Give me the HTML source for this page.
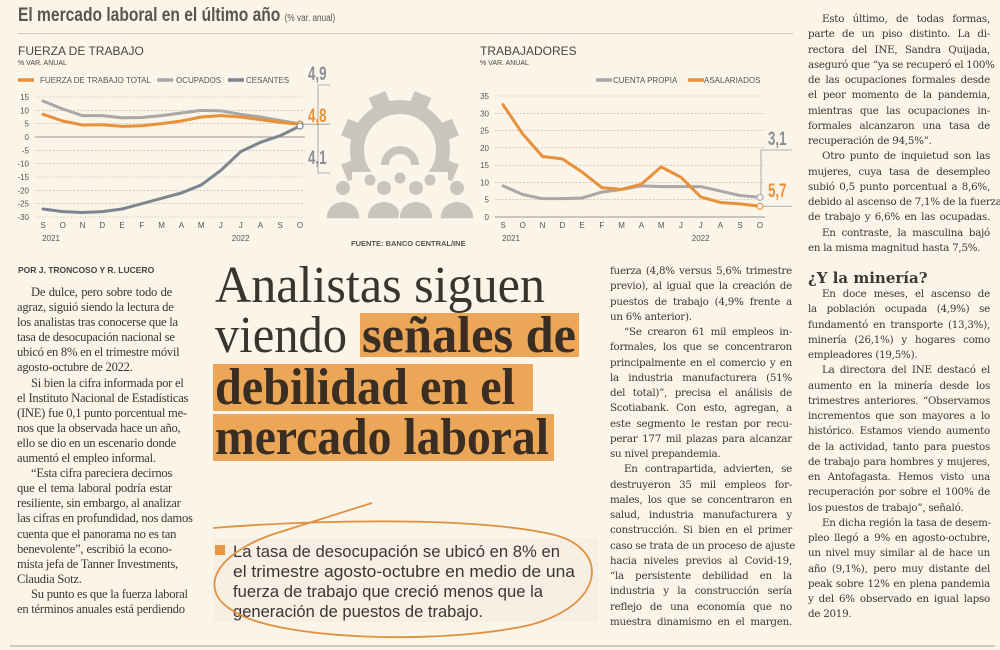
<!DOCTYPE html>
<html><head><meta charset="utf-8">
<style>
html,body{margin:0;padding:0;}
body{width:1000px;height:650px;background:#fbf4e9;position:relative;overflow:hidden;font-family:"Liberation Serif",serif;color:#3b3531;}
.abs{position:absolute;}
.col{position:absolute;font-family:"DejaVu Serif","Liberation Serif",serif;font-size:10.3px;letter-spacing:-0.25px;color:#3d3834;}
.col div{height:15.25px;line-height:15.25px;white-space:nowrap;text-align:justify;text-align-last:justify;}
.col div.l{text-align-last:left;}
.col div.i{padding-left:14px;}
.c1{font-family:"Liberation Serif",serif;font-size:12.6px;letter-spacing:-0.25px;}
.c1 div{height:15.1px;line-height:15.1px;}
.sans{font-family:"Liberation Sans",sans-serif;}
</style></head><body>

<div class="abs" style="left:18px;top:5px;font-family:'Liberation Sans',sans-serif;font-weight:bold;font-size:19px;color:#5a5551;transform:scaleX(0.82);transform-origin:left;white-space:nowrap;">El mercado laboral en el último año <span style="font-size:10px;font-weight:normal">(% var. anual)</span></div>
<div class="abs" style="left:18px;top:33px;width:775px;height:1px;background:#cfc8bf;"></div>

<svg class="abs" style="left:0;top:0" width="800" height="260" font-family="Liberation Sans, sans-serif">
  <g id="c1"></g>
  <g id="c2"></g>
  <g id="gear" fill="#c9c4bd">
  </g>
  <text x="351" y="246" font-size="7.5" font-weight="bold" fill="#555">FUENTE: BANCO CENTRAL/INE</text>
</svg>

<div class="abs sans" style="left:18px;top:265px;font-size:8.5px;font-weight:bold;color:#444;">POR J. TRONCOSO Y R. LUCERO</div>

<div class="col c1" style="left:17px;top:285px;width:155px;">
<div class="i">De dulce, pero sobre todo de</div>
<div>agraz, siguió siendo la lectura de</div>
<div>los analistas tras conocerse que la</div>
<div>tasa de desocupación nacional se</div>
<div>ubicó en 8% en el trimestre móvil</div>
<div class="l">agosto-octubre de 2022.</div>
<div class="i">Si bien la cifra informada por el</div>
<div>el Instituto Nacional de Estadísticas</div>
<div>(INE) fue 0,1 punto porcentual me-</div>
<div>nos que la observada hace un año,</div>
<div>ello se dio en un escenario donde</div>
<div class="l">aumentó el empleo informal.</div>
<div class="i">“Esta cifra pareciera decirnos</div>
<div>que el tema laboral podría estar</div>
<div>resiliente, sin embargo, al analizar</div>
<div>las cifras en profundidad, nos damos</div>
<div>cuenta que el panorama no es tan</div>
<div>benevolente”, escribió la econo-</div>
<div>mista jefa de Tanner Investments,</div>
<div class="l">Claudia Sotz.</div>
<div class="i">Su punto es que la fuerza laboral</div>
<div>en términos anuales está perdiendo</div>
</div>

<svg class="abs" style="left:0;top:0" width="600" height="650">
  <rect x="360" y="313" width="219" height="44" fill="#eba657"/>
  <rect x="213" y="364" width="320" height="47" fill="#eba657"/>
  <rect x="213" y="414" width="341" height="47" fill="#eba657"/>
  <text x="215" y="302" font-family="Liberation Serif, serif" font-size="52" fill="#3a342f" textLength="330" lengthAdjust="spacingAndGlyphs">Analistas siguen</text>
  <text x="215" y="352" font-family="Liberation Serif, serif" font-size="52" fill="#3a342f" textLength="132" lengthAdjust="spacingAndGlyphs">viendo</text>
  <text x="362" y="352" font-family="Liberation Serif, serif" font-weight="bold" font-size="52" fill="#3a2d22" textLength="214" lengthAdjust="spacingAndGlyphs">señales de</text>
  <text x="215" y="404" font-family="Liberation Serif, serif" font-weight="bold" font-size="52" fill="#3a2d22" textLength="300" lengthAdjust="spacingAndGlyphs">debilidad en el</text>
  <text x="215" y="454" font-family="Liberation Serif, serif" font-weight="bold" font-size="52" fill="#3a2d22" textLength="334" lengthAdjust="spacingAndGlyphs">mercado laboral</text>

  <rect x="213" y="538" width="385" height="84" fill="#f7efe3"/>
  <rect x="215" y="545" width="10" height="10" fill="#e8963f"/>
  <g font-family="Liberation Sans, sans-serif" font-size="17" fill="#3a3632">
    <text x="233" y="557" textLength="327" lengthAdjust="spacingAndGlyphs">La tasa de desocupación se ubicó en 8% en</text>
    <text x="233" y="577" textLength="342" lengthAdjust="spacingAndGlyphs">el trimestre agosto-octubre en medio de una</text>
    <text x="233" y="597" textLength="310" lengthAdjust="spacingAndGlyphs">fuerza de trabajo que creció menos que la</text>
    <text x="233" y="617" textLength="250" lengthAdjust="spacingAndGlyphs">generación de puestos de trabajo.</text>
  </g>
  <path d="M213,528 C300,521 470,515 555,535 C610,550 605,605 530,625 C440,645 280,640 235,612 C195,590 215,552 280,532 L372,503" fill="none" stroke="#e0913f" stroke-width="1.8"/>
</svg>

<div class="col" style="left:610px;top:264px;width:182px;">
<div>fuerza (4,8% versus 5,6% trimestre</div>
<div>previo), al igual que la creación de</div>
<div>puestos de trabajo (4,9% frente a</div>
<div class="l">un 6% anterior).</div>
<div class="i">“Se crearon 61 mil empleos in-</div>
<div>formales, los que se concentraron</div>
<div>principalmente en el comercio y en</div>
<div>la industria manufacturera (51%</div>
<div>del total)”, precisa el análisis de</div>
<div>Scotiabank. Con esto, agregan, a</div>
<div>este segmento le restan por recu-</div>
<div>perar 177 mil plazas para alcanzar</div>
<div class="l">su nivel prepandemia.</div>
<div class="i">En contrapartida, advierten, se</div>
<div>destruyeron 35 mil empleos for-</div>
<div>males, los que se concentraron en</div>
<div>salud, industria manufacturera y</div>
<div>construcción. Si bien en el primer</div>
<div>caso se trata de un proceso de ajuste</div>
<div>hacia niveles previos al Covid-19,</div>
<div>“la persistente debilidad en la</div>
<div>industria y la construcción sería</div>
<div>reflejo de una economía que no</div>
<div>muestra dinamismo en el margen.</div>
</div>

<div class="col" style="left:808px;top:12px;width:182px;">
<div class="i">Esto último, de todas formas,</div>
<div>parte de un piso distinto. La di-</div>
<div>rectora del INE, Sandra Quijada,</div>
<div>aseguró que “ya se recuperó el 100%</div>
<div>de las ocupaciones formales desde</div>
<div>el peor momento de la pandemia,</div>
<div>mientras que las ocupaciones in-</div>
<div>formales alcanzaron una tasa de</div>
<div class="l">recuperación de 94,5%”.</div>
<div class="i">Otro punto de inquietud son las</div>
<div>mujeres, cuya tasa de desempleo</div>
<div>subió 0,5 punto porcentual a 8,6%,</div>
<div>debido al ascenso de 7,1% de la fuerza</div>
<div>de trabajo y 6,6% en las ocupadas.</div>
<div class="i">En contraste, la masculina bajó</div>
<div class="l">en la misma magnitud hasta 7,5%.</div>
<div style="height:13px"></div>
<div class="l" style="font-size:15px;font-weight:bold;height:18px;line-height:18px;letter-spacing:0;">¿Y la minería?</div>
<div class="i">En doce meses, el ascenso de</div>
<div>la población ocupada (4,9%) se</div>
<div>fundamentó en transporte (13,3%),</div>
<div>minería (26,1%) y hogares como</div>
<div class="l">empleadores (19,5%).</div>
<div class="i">La directora del INE destacó el</div>
<div>aumento en la minería desde los</div>
<div>trimestres anteriores. “Observamos</div>
<div>incrementos que son mayores a lo</div>
<div>histórico. Estamos viendo aumento</div>
<div>de la actividad, tanto para puestos</div>
<div>de trabajo para hombres y mujeres,</div>
<div>en Antofagasta. Hemos visto una</div>
<div>recuperación por sobre el 100% de</div>
<div class="l">los puestos de trabajo”, señaló.</div>
<div class="i">En dicha región la tasa de desem-</div>
<div>pleo llegó a 9% en agosto-octubre,</div>
<div>un nivel muy similar al de hace un</div>
<div>año (9,1%), pero muy distante del</div>
<div>peak sobre 12% en plena pandemia</div>
<div>y del 6% observado en igual lapso</div>
<div class="l">de 2019.</div>
</div>

<div class="abs" style="left:10px;top:645px;width:985px;height:2px;background:#cfc8bf;"></div>

<script>
const months = ["S","O","N","D","E","F","M","A","M","J","J","A","S","O"];
const years = ["2021","2022"];
const c1Ticks = [15,10,5,0,-5,-10,-15,-20,-25,-30];
const fuerzaTotal = [8.5,6,4.5,4.6,4,4.2,5,6,7.5,8,7.5,6.5,5.5,4.8];
const ocupados = [13.5,10.5,8,8,7.2,7.3,8,9,10,9.8,8.5,7.5,6.2,4.9];
const cesantes = [-27,-28,-28.3,-28,-27,-25,-23,-21,-18,-12.5,-5.5,-2,0.5,4.1];
const c2Ticks = [35,30,25,20,15,10,5,0];
const cuentaPropia = [9,6.5,5.3,5.3,5.5,7.2,8,9,8.8,8.8,8.8,7.5,6.2,5.7];
const asalariados = [32.5,24,17.5,16.8,13,8.5,8,9.5,14.5,11.5,5.8,4.2,3.8,3.1];
const ORANGE="#e8913a", GRAY="#a9a8a6", DARK="#7d8590";
const NS="http://www.w3.org/2000/svg";
function mk(parent,tag,attrs,text){const e=document.createElementNS(NS,tag);for(const k in attrs)e.setAttribute(k,attrs[k]);if(text!==undefined)e.textContent=text;parent.appendChild(e);return e;}

function drawChart(g, cfg){
  const x = i => cfg.x0 + i*(cfg.x1-cfg.x0)/(months.length-1);
  const y = v => cfg.yTop + (cfg.max - v)*(cfg.yBot-cfg.yTop)/(cfg.max-cfg.min);
  cfg.ticks.forEach(t=>{
    const ln=mk(g,"line",{x1:cfg.x0-8,x2:cfg.x1+5,y1:y(t),y2:y(t),stroke:t===0?"#9a958f":"#b9b3ab","stroke-width":t===0?1:0.6,"stroke-dasharray":t===0?"":"2,1.5"});
    
    
    const tx=mk(g,"text",{x:cfg.x0-14,y:y(t)+3,"font-size":8,"text-anchor":"end",fill:"#555"},String(t));
    
    
  });
  months.forEach((m,i)=>{
    const tx=mk(g,"text",{x:x(i),y:cfg.yBot+11,"font-size":8,"text-anchor":"middle",fill:"#555"},m);
    
    
  });
  [[0,years[0]],[10,years[1]]].forEach(([i,yr])=>{
    const tx=mk(g,"text",{x:x(i)+(i?0:8),y:cfg.yBot+24,"font-size":8,"text-anchor":"middle",fill:"#555"},yr);
    
    
  });
  cfg.series.forEach(s=>{
    const p=mk(g,"polyline",{points:s.data.map((v,i)=>x(i)+","+y(v)).join(" "),fill:"none",stroke:s.color,"stroke-width":3,"stroke-linejoin":"round","stroke-linecap":"round"});
    
    
    const last=s.data.length-1;
    const c=mk(g,"circle",{cx:x(last),cy:y(s.data[last]),r:3,fill:"#fff",stroke:s.color,"stroke-width":1.2});
    
    
  });
  return {x,y};
}

const g1=document.getElementById("c1");
mk(g1,"text",{x:18,y:55,"font-size":12,fill:"#4a4540"},"FUERZA DE TRABAJO");
mk(g1,"text",{x:18,y:65,"font-size":7,fill:"#4a4540"},"% VAR. ANUAL");
const a1=drawChart(g1,{x0:43,x1:300,yTop:97,yBot:217,max:15,min:-30,ticks:c1Ticks,
 series:[{name:"ocupados-line",data:ocupados,color:GRAY},{name:"fuerza-total-line",data:fuerzaTotal,color:ORANGE},{name:"cesantes-line",data:cesantes,color:DARK}]});
[[18,ORANGE,"FUERZA DE TRABAJO  TOTAL",40],[157,GRAY,"OCUPADOS",176],[228,DARK,"CESANTES",246]].forEach(([lx,col,lab,tx])=>{
  const l=mk(g1,"line",{x1:lx,x2:lx+16,y1:80,y2:80,stroke:col,"stroke-width":3.5});
  
  
  const t=mk(g1,"text",{x:tx,y:83,"font-size":8,fill:"#555"},lab);
  
  
});
mk(g1,"polyline",{points:"330,85 318,85 318,173 330,173",fill:"none",stroke:"#999","stroke-width":0.8});
mk(g1,"line",{x1:303,x2:330,y1:a1.y(4.8),y2:a1.y(4.8),stroke:"#999","stroke-width":0.8});
[["4,9",80,"#8a8f96"],["4,8",122,ORANGE],["4,1",164,"#8a8f96"]].forEach(([t,yy,c])=>{
  const e=mk(g1,"text",{x:308,y:yy,"font-size":19,"font-weight":"bold",fill:c,transform:`translate(${308*0.3},0) scale(0.7,1)`},t);
  
  
});

const g2=document.getElementById("c2");
mk(g2,"text",{x:480,y:55,"font-size":12,fill:"#4a4540"},"TRABAJADORES");
mk(g2,"text",{x:480,y:65,"font-size":7,fill:"#4a4540"},"% VAR. ANUAL");
const a2=drawChart(g2,{x0:503,x1:760,yTop:96,yBot:217,max:35,min:0,ticks:c2Ticks,
 series:[{name:"cuenta-propia-line",data:cuentaPropia,color:GRAY},{name:"asalariados-line",data:asalariados,color:ORANGE}]});
[[596,GRAY,"CUENTA PROPIA",613],[688,ORANGE,"ASALARIADOS",704]].forEach(([lx,col,lab,tx])=>{
  const l=mk(g2,"line",{x1:lx,x2:lx+16,y1:80,y2:80,stroke:col,"stroke-width":3.5});
  
  
  const t=mk(g2,"text",{x:tx,y:83,"font-size":8,fill:"#555"},lab);
  
  
});
mk(g2,"polyline",{points:"792,150 761,150 761,195",fill:"none",stroke:"#999","stroke-width":0.8});
mk(g2,"line",{x1:763,x2:792,y1:a2.y(3.1),y2:a2.y(3.1),stroke:"#999","stroke-width":0.8});
[["3,1",145,"#8a8f96"],["5,7",197,ORANGE]].forEach(([t,yy,c])=>{
  const e=mk(g2,"text",{x:768,y:yy,"font-size":19,"font-weight":"bold",fill:c,transform:`translate(${768*0.3},0) scale(0.7,1)`},t);
  
  
});

// gear icon
const gear=document.getElementById("gear");
const cx=400,cy=150;
for(let k=0;k<8;k++){
  const a=k*45+22.5;
  mk(gear,"rect",{x:cx-9,y:cy-60,width:18,height:16,transform:`rotate(${a} ${cx} ${cy})`});
}
mk(gear,"circle",{cx:cx,cy:cy,r:43,fill:"none",stroke:"#c9c4bd","stroke-width":14});
mk(gear,"path",{d:`M${cx-15},${cy+15} A15,15 0 1 1 ${cx+15},${cy+15}`,fill:"none",stroke:"#c9c4bd","stroke-width":8});
mk(gear,"rect",{x:cx-48,y:cy+22,width:96,height:50,fill:"#fbf4e9"});
[[370,180,5.5],[430,180,5.5],[400,178,5.5],[343,188,7],[457,188,7],[384,188,7],[416,188,7]].forEach(([px,py,r])=>{
  mk(gear,"circle",{cx:px,cy:py,r:r});
});
[[343,203,17],[384,203,17],[416,203,17],[457,203,17]].forEach(([px,py,w])=>{
  mk(gear,"path",{d:`M${px-w},${219} Q${px-w},${py} ${px},${py-2} Q${px+w},${py} ${px+w},219 Z`,stroke:"#fbf4e9","stroke-width":1.5});
});
</script>
</body></html>
